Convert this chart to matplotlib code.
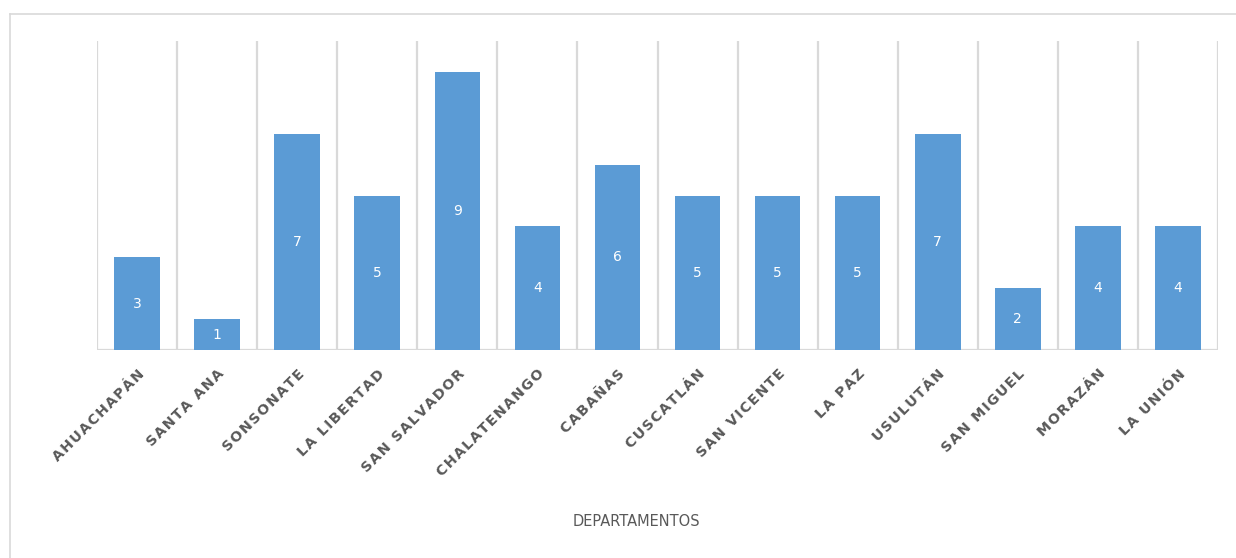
import matplotlib
matplotlib.use("Agg")
import matplotlib.pyplot as plt
from matplotlib.lines import Line2D

categories = ["AHUACHAPÁN", "SANTA ANA", "SONSONATE", "LA LIBERTAD", "SAN SALVADOR",
              "CHALATENANGO", "CABAÑAS", "CUSCATLÁN", "SAN VICENTE", "LA PAZ",
              "USULUTÁN", "SAN MIGUEL", "MORAZÁN", "LA UNIÓN"]
values = [3, 1, 7, 5, 9, 4, 6, 5, 5, 5, 7, 2, 4, 4]
xlabel = "DEPARTAMENTOS"

W, H = 1236, 558
fig = plt.figure(figsize=(W/100, H/100), dpi=100)
fig.patch.set_facecolor("white")

ax = fig.add_axes([97/W, (H-350)/H, 1121/W, 309/H])
n = len(categories)
x = list(range(n))
ax.bar(x, values, width=0.57, color="#5B9BD5", zorder=3)
ax.set_xlim(-0.5, n-0.5)
ax.set_ylim(0, 10)

for b in [i - 0.5 for i in range(n + 1)]:
    ax.axvline(b, color="#D9D9D9", lw=1.6, zorder=1)
ax.axhline(0, color="#D9D9D9", lw=1.6, zorder=2)

for xi, v in zip(x, values):
    ax.text(xi, v/2, str(v), ha="center", va="center", color="white", fontsize=10, zorder=4)

for s in ax.spines.values():
    s.set_visible(False)
ax.set_yticks([])
ax.set_xticks(x)
# letter-spaced display of the category names (hair spaces between letters)
spaced = ["\u200a".join(c) for c in categories]
ax.set_xticklabels(spaced, rotation=45, ha="right", rotation_mode="anchor",
                   fontsize=10.2, fontweight="bold", color="#595959")
ax.tick_params(axis="x", length=0, pad=12)

fig.text(636/W, 1-522/H, xlabel, ha="center", va="center", fontsize=10.5, color="#595959")

fig.add_artist(Line2D([10/W, 1.0], [1-14/H, 1-14/H], color="#D9D9D9", lw=1.2))
fig.add_artist(Line2D([10/W, 10/W], [0, 1-14/H], color="#D9D9D9", lw=1.2))

fig.savefig("out.png", dpi=100)
